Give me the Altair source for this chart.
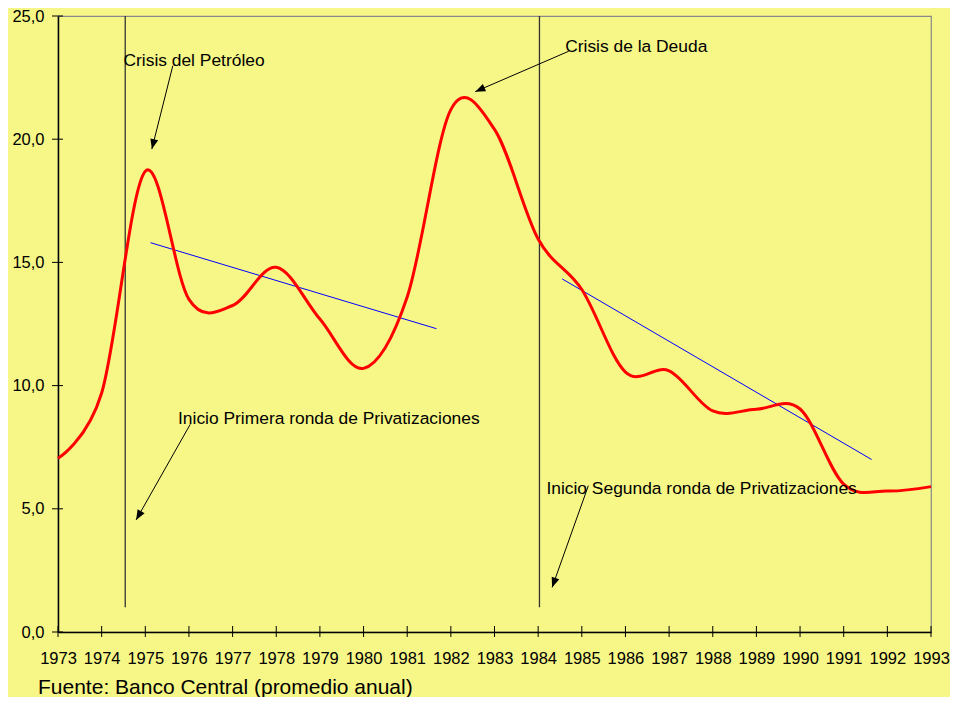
import math
import altair as alt
import pandas as pd

# ---------------- data ----------------
years = list(range(1973, 1994))
tasa = [7.05, 9.7, 18.7, 13.5, 13.25, 14.8, 12.7, 10.7, 13.6, 21.2, 20.4,
        15.95, 13.9, 10.55, 10.6, 8.97, 9.04, 9.05, 6.0, 5.72, 5.9]

# trend lines (two segments)
trend_seg = ["a", "a", "b", "b"]
trend_year = [1975.12, 1981.67, 1984.55, 1991.64]
trend_val = [15.80, 12.31, 14.33, 7.00]

# vertical event lines
vline_year = [1974.54, 1984.03]
vline_bottom = [1.0, 1.0]
vline_top = [25.0, 25.0]

# annotations
ann_text = ["Crisis del Petróleo", "Crisis de la Deuda",
            "Inicio Primera ronda de Privatizaciones",
            "Inicio Segunda ronda de Privatizaciones"]
ann_year = [1974.50, 1984.62, 1975.75, 1984.19]
ann_val = [22.96, 23.55, 8.44, 5.61]

# arrows (start -> tip)
arr_x0 = [1975.63, 1984.70, 1976.03, 1985.15]
arr_y0 = [22.98, 23.57, 8.43, 5.94]
arr_x1 = [1975.15, 1982.56, 1974.79, 1984.32]
arr_y1 = [19.60, 21.93, 4.55, 1.81]

x_ticks = years
y_ticks = [0, 5, 10, 15, 20, 25]

footer = "Fuente: Banco Central (promedio anual)"

# ---------------- layout ----------------
W, H = 873, 616
PX_YEAR = W / 20.0
PX_VAL = H / 25.0
FONT = "Liberation Sans"
BG = "#F7F787"

angles = []
for a, b, c, d in zip(arr_x0, arr_y0, arr_x1, arr_y1):
    dx = (c - a) * PX_YEAR
    dy = -(d - b) * PX_VAL
    ang = math.degrees(math.atan2(dx, -dy)) % 360
    angles.append(ang)

df_line = pd.DataFrame({"year": years, "val": tasa})
df_trend = pd.DataFrame({"seg": trend_seg, "year": trend_year, "val": trend_val})
df_vline = pd.DataFrame({"year": vline_year, "y0": vline_bottom, "y1": vline_top})
df_ann = pd.DataFrame({"text": ann_text, "year": ann_year, "val": ann_val})
df_arr = pd.DataFrame({"x0": arr_x0, "y0": arr_y0, "x1": arr_x1, "y1": arr_y1,
                       "angle": angles})
df_xt = pd.DataFrame({"year": x_ticks})
df_yt = pd.DataFrame({"val": y_ticks})
df_foot = pd.DataFrame({"text": [footer]})

xscale = alt.Scale(domain=[1973, 1993], nice=False, zero=False)
yscale = alt.Scale(domain=[0, 25], nice=False)

xaxis = alt.Axis(values=x_ticks, format="d", tickSize=0, labelPadding=18,
                 labelFontSize=16.5, labelFont=FONT, labelColor="#000000",
                 labelFlush=False, labelOverlap=False, labelBound=False,
                 domainColor="#000000", domainWidth=1.5, grid=False)
yaxis = alt.Axis(values=y_ticks, tickSize=0, labelPadding=14,
                 labelFontSize=16.5, labelFont=FONT, labelColor="#000000",
                 labelExpr="replace(format(datum.value, '.1f'), '.', ',')",
                 domainColor="#000000", domainWidth=1.5, grid=False)

base_x = alt.X("year:Q", scale=xscale, axis=xaxis, title=None)
base_y = alt.Y("val:Q", scale=yscale, axis=yaxis, title=None)

trend = alt.Chart(df_trend).mark_line(color="#0000FF", strokeWidth=1).encode(
    x=base_x, y=base_y, detail="seg:N")

vlines = alt.Chart(df_vline).mark_rule(color="#333333", strokeWidth=1.3).encode(
    x=alt.X("year:Q", scale=xscale, axis=xaxis, title=None),
    y=alt.Y("y0:Q", scale=yscale, axis=yaxis, title=None),
    y2="y1:Q")

red = alt.Chart(df_line).mark_line(color="#FF0000", strokeWidth=3,
                                   interpolate="cardinal", tension=0).encode(
    x=base_x, y=base_y)

arrows = alt.Chart(df_arr).mark_rule(color="#000000", strokeWidth=1).encode(
    x=alt.X("x0:Q", scale=xscale, axis=xaxis, title=None),
    y=alt.Y("y0:Q", scale=yscale, axis=yaxis, title=None),
    x2="x1:Q", y2="y1:Q")

heads = alt.Chart(df_arr).mark_point(shape="M0,0L-0.8,2L0.8,2Z", filled=True,
                                     size=100, color="#000000", opacity=1,
                                     strokeWidth=0).encode(
    x=alt.X("x1:Q", scale=xscale, axis=xaxis, title=None),
    y=alt.Y("y1:Q", scale=yscale, axis=yaxis, title=None),
    angle=alt.Angle("angle:Q", scale=None))

texts = alt.Chart(df_ann).mark_text(align="left", baseline="alphabetic",
                                    font=FONT, fontSize=17.4, color="#000000").encode(
    x=base_x, y=base_y, text="text:N")

xt = alt.Chart(df_xt).mark_rule(color="#000000", strokeWidth=1).encode(
    x=alt.X("year:Q", scale=xscale, axis=xaxis, title=None),
    y=alt.value(H - 6), y2=alt.value(H + 5))

yt = alt.Chart(df_yt).mark_rule(color="#000000", strokeWidth=1).encode(
    y=alt.Y("val:Q", scale=yscale, axis=yaxis, title=None),
    x=alt.value(-6), x2=alt.value(5))

foot = alt.Chart(df_foot).mark_text(align="left", baseline="alphabetic",
                                    font=FONT, fontSize=21, color="#000000").encode(
    x=alt.value(-20), y=alt.value(678), text="text:N")

chart = alt.layer(trend, vlines, red, arrows, heads, texts, xt, yt, foot).properties(
    width=W, height=H,
    background=BG,
    autosize=alt.AutoSizeParams(type="none"),
    padding={"left": 50, "top": 8, "right": 19, "bottom": 65},
).configure_view(stroke="#888888", strokeWidth=1.2, fill=BG)

chart.save("out.html", embed_options={"renderer": "svg", "actions": False})
